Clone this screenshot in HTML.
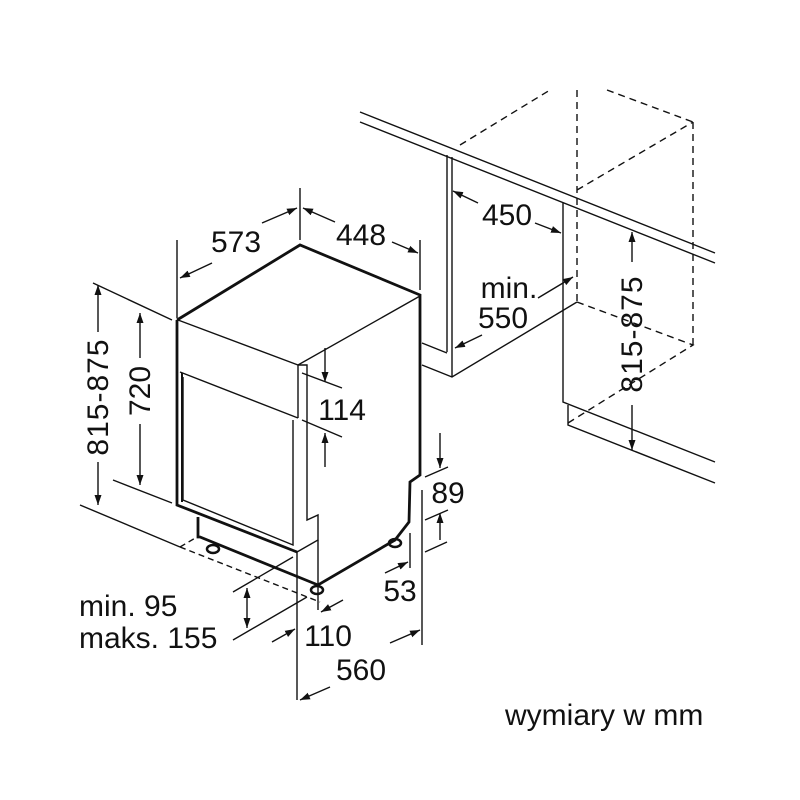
<!DOCTYPE html>
<html><head><style>html,body{margin:0;padding:0;background:#fff}svg{display:block}
text{font-family:"Liberation Sans",Arial,sans-serif;fill:#111}</style></head><body>
<svg width="800" height="800" viewBox="0 0 800 800" xmlns="http://www.w3.org/2000/svg">
<defs>
<marker id="a" viewBox="0 0 10 10" refX="10" refY="5" markerWidth="10" markerHeight="10" orient="auto-start-reverse" markerUnits="userSpaceOnUse"><path d="M0,1.5 L10,5 L0,8.5 z" fill="#111"/></marker>
</defs>
<g stroke="#111" fill="none" stroke-width="1.4">
<g stroke-width="2.8" stroke-linejoin="miter">
<path d="M177,320 L300,245 L420,295 L420,475 L410,482 L409,522 L395,540 L318,585 L200,537 L198,537 L198,517"/>
<path d="M177,320 L177,505 L297,552"/>
</g>
<path d="M178,320 L298,365 L420,296"/>
<path d="M298,365 L298,418"/>
<path d="M180,372 L298,418"/>
<path d="M183,377 L183,500 L293,545 L293,420"/>
<path d="M182,373 L182,502" stroke-width="2"/>
<path d="M298,365 L307,365 L307,520 L318,515 L318,540 L297,552"/>
<path d="M297,552 L297,700"/>
<path d="M318,540 L318,610"/>
<ellipse cx="213" cy="549" rx="6" ry="4" stroke-width="2.5"/>
<ellipse cx="317" cy="590" rx="6" ry="4" stroke-width="2.5"/>
<ellipse cx="395" cy="543" rx="6" ry="4" stroke-width="2.5"/>
<path d="M180,547 L197,537 M180,547 L320,602" stroke-dasharray="6,4"/>
<path d="M177,240 L177,318 M300,188 L300,240 M420,240 L420,290"/>
<path d="M212,263 L180,278" marker-end="url(#a)"/>
<path d="M262,223 L297,208" marker-end="url(#a)"/>
<path d="M335,222 L303,208" marker-end="url(#a)"/>
<path d="M392,242 L418,253" marker-end="url(#a)"/>
<path d="M93,283 L172,320 M80,505 L180,547 M113,480 L172,503"/>
<path d="M98,332 L98,285" marker-end="url(#a)"/>
<path d="M98,462 L98,505" marker-end="url(#a)"/>
<path d="M140,358 L140,313" marker-end="url(#a)"/>
<path d="M140,424 L140,485" marker-end="url(#a)"/>
<path d="M302,373 L342,388 M302,420 L342,437"/>
<path d="M325,348 L325,382" marker-end="url(#a)"/>
<path d="M325,467 L325,433" marker-end="url(#a)"/>
<path d="M425,477 L448,467 M425,520 L448,510 M425,552 L447,542 M422,490 L422,645"/>
<path d="M440,433 L440,468" marker-end="url(#a)"/>
<path d="M440,540 L440,513" marker-end="url(#a)"/>
<path d="M410,533 L410,568"/>
<path d="M385,573 L408,562" marker-end="url(#a)"/>
<path d="M343,600 L321,612" marker-end="url(#a)"/>
<path d="M272,642 L295,629" marker-end="url(#a)"/>
<path d="M330,687 L300,700" marker-end="url(#a)"/>
<path d="M390,643 L420,630" marker-end="url(#a)"/>
<path d="M233,592 L293,557 M233,640 L307,597"/>
<path d="M247,608 L247,588" marker-end="url(#a)"/>
<path d="M247,608 L247,628" marker-end="url(#a)"/>
<path d="M360,112 L715,253 M360,122 L715,263"/>
<path d="M447,155 L447,352 M452,157 L452,377 M422,343 L447,353 M422,365 L452,377 L577,302"/>
<path d="M563,203 L563,402 L715,462 M568,405 L568,425 L715,483"/>
<g stroke-dasharray="7,5">
<path d="M460,145 L550,90 M577,90 L577,302 M607,90 L693,122 M577,190 L693,122 M693,122 L693,345 M577,302 L693,345 L568,423"/>
</g>
<path d="M478,203 L453,191" marker-end="url(#a)"/>
<path d="M535,223 L561,233" marker-end="url(#a)"/>
<path d="M538,298 L573,277" marker-end="url(#a)"/>
<path d="M482,335 L455,348" marker-end="url(#a)"/>
<path d="M632,262 L632,232" marker-end="url(#a)"/>
<path d="M632,405 L632,450" marker-end="url(#a)"/>
</g>
<g font-size="30">
<text x="236" y="252" text-anchor="middle">573</text>
<text x="361" y="245" text-anchor="middle">448</text>
<text x="98" y="397" text-anchor="middle" letter-spacing="1" transform="rotate(-90 98 397)" dy="10">815-875</text>
<text x="140" y="391" text-anchor="middle" transform="rotate(-90 140 391)" dy="10">720</text>
<text x="342" y="420" text-anchor="middle">114</text>
<text x="448" y="503" text-anchor="middle">89</text>
<text x="400" y="601" text-anchor="middle">53</text>
<text x="328" y="646" text-anchor="middle">110</text>
<text x="361" y="680" text-anchor="middle">560</text>
<text x="79" y="616">min. 95</text>
<text x="79" y="648">maks. 155</text>
<text x="507" y="225" text-anchor="middle">450</text>
<text x="509" y="298" text-anchor="middle">min.</text>
<text x="503" y="328" text-anchor="middle">550</text>
<text x="632" y="334" text-anchor="middle" letter-spacing="1" transform="rotate(-90 632 334)" dy="10">815-875</text>
<text x="505" y="725">wymiary w mm</text>
</g>
</svg>
</body></html>
